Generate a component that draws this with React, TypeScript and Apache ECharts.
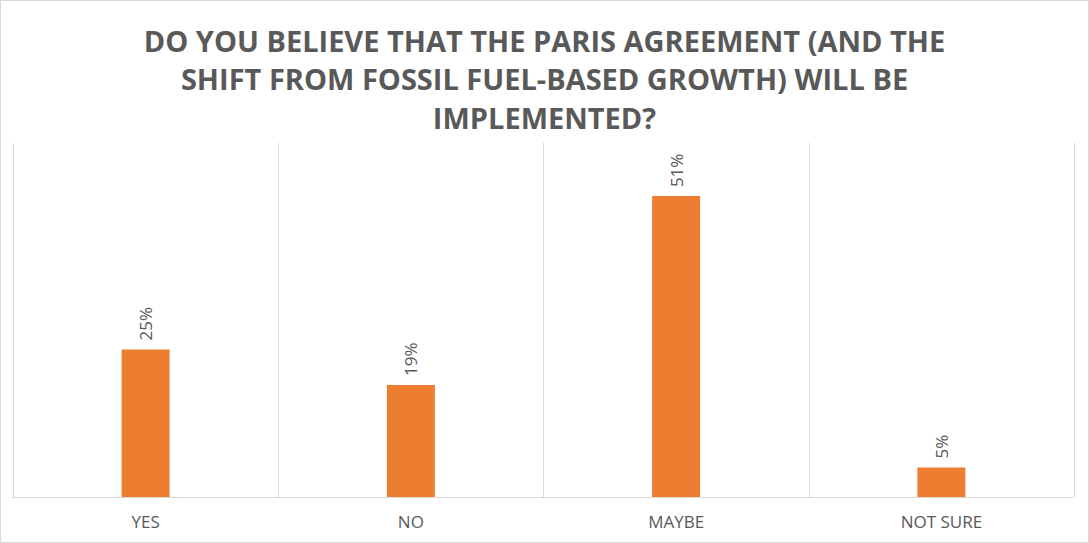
import React, { useEffect, useRef } from "react";
import * as echarts from "echarts";

const titleLines = [
  "DO YOU BELIEVE THAT THE PARIS AGREEMENT (AND THE",
  "SHIFT FROM FOSSIL FUEL-BASED GROWTH) WILL BE",
  "IMPLEMENTED?",
];
const categories = ["YES", "NO", "MAYBE", "NOT SURE"];
const values = [25, 19, 51, 5];

export default function App() {
  const ref = useRef<HTMLDivElement>(null);
  useEffect(() => {
    if (!ref.current) return;
    const chart = echarts.init(ref.current, null, { renderer: "svg" });
    chart.setOption({
      animation: false,
      backgroundColor: "#ffffff",
      title: {
        text: titleLines.join("\n"),
        left: "center",
        top: 15,
        padding: 5,
        textStyle: {
          fontFamily: "Open Sans",
          fontWeight: "bold",
          fontSize: 29,
          lineHeight: 38.5,
          color: "#595959",
        },
      },
      grid: { left: 12, right: 14, top: 142, bottom: 45, containLabel: false },
      xAxis: {
        type: "category",
        data: categories,
        axisLine: { show: true, lineStyle: { color: "#d9d9d9", width: 1 } },
        axisTick: { show: false },
        splitLine: { show: true, lineStyle: { color: "#d9d9d9", width: 1 } },
        axisLabel: {
          color: "#595959",
          fontFamily: "Open Sans",
          fontSize: 17,
          margin: 16,
        },
      },
      yAxis: {
        type: "value",
        min: 0,
        max: 60,
        position: "right",
        axisLine: { show: true, lineStyle: { color: "#d9d9d9", width: 1 } },
        axisTick: { show: false },
        axisLabel: { show: false },
        splitLine: { show: false },
      },
      series: [
        {
          type: "bar",
          data: values,
          barWidth: 48,
          itemStyle: { color: "#ED7D31" },
          label: {
            show: true,
            position: "top",
            rotate: 90,
            align: "left",
            verticalAlign: "middle",
            distance: 9,
            formatter: "{c}%",
            color: "#595959",
            fontFamily: "Open Sans",
            fontSize: 17,
          },
        },
      ],
    });
    return () => chart.dispose();
  }, []);
  return (
    <div
      style={{
        position: "fixed",
        left: 0,
        top: 0,
        width: 1089,
        height: 543,
        boxSizing: "border-box",
        border: "1px solid #d9d9d9",
        background: "#fff",
      }}
    >
      <div ref={ref} style={{ width: 1087, height: 541 }} />
    </div>
  );
}
